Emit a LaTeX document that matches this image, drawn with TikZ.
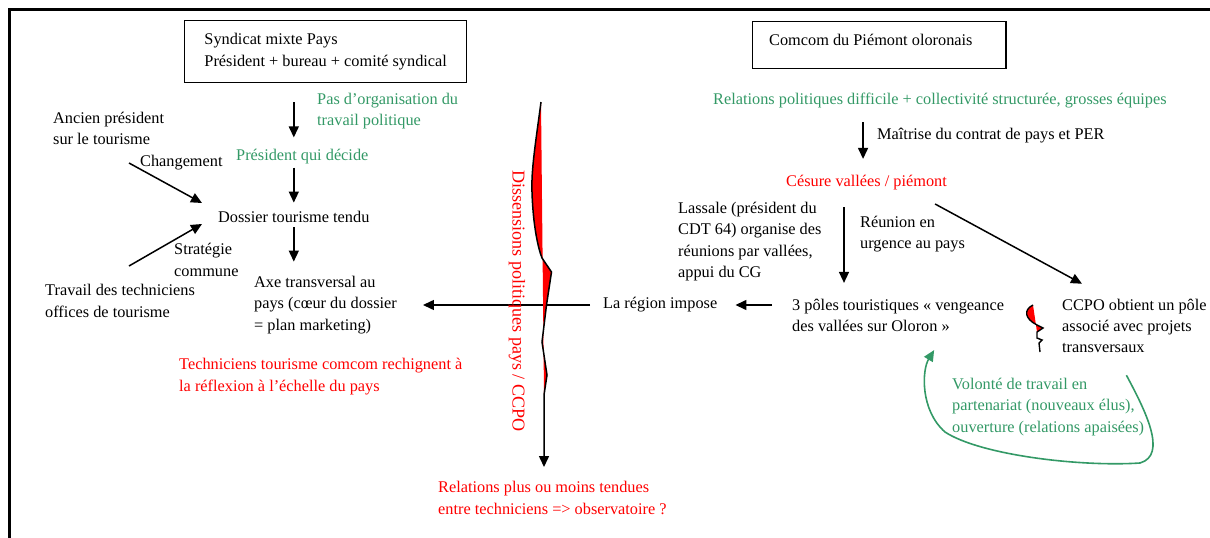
\documentclass[tikz,border=0pt]{standalone}
\usepackage{fontspec}
\setmainfont{Liberation Serif}
\usepackage{tikz}
\usetikzlibrary{arrows.meta,positioning,calc}
\definecolor{vert}{RGB}{51,153,102}
\definecolor{rouge}{RGB}{255,0,0}

\begin{document}
\begin{tikzpicture}[x=1pt,y=-1pt,font=\fontsize{16.3pt}{21.3pt}\selectfont,
  txt/.style={anchor=west,inner sep=0pt,align=left},
  cadre/.style={draw,line width=1.4pt,anchor=north west,inner xsep=17pt,align=left},
  arr/.style={line width=1.5pt,-{Triangle[length=11pt,width=10pt]}}]
\useasboundingbox (0,0) rectangle (1210,538);
\draw[line width=2.2pt] (9.5,538) -- (9.5,9.5) -- (1210,9.5);

% cote pays
\node[cadre,minimum width=282pt,minimum height=62pt] (pays) at (184,20) {Syndicat mixte Pays\\Président + bureau + comité syndical};
\node[txt,vert] (pasorg) at (317,111) {Pas d’organisation du\\travail politique};
\node[txt] (ancien) at (53,128.5) {Ancien président\\sur le tourisme};
\node[txt,vert] (decide) at (236,157) {Président qui décide};
\node[txt] (chgt) at (140,163) {Changement};
\node[txt] (dossier) at (218,217) {Dossier tourisme tendu};
\node[txt] (strat) at (174,260) {Stratégie\\commune};
\node[txt] (travail) at (45,301) {Travail des techniciens\\offices de tourisme};
\node[txt] (axe) at (254,305) {Axe transversal au\\pays (cœur du dossier\\= plan marketing)};
\node[txt,rouge] (rechign) at (179,376.5) {Techniciens tourisme comcom rechignent à\\la réflexion à l’échelle du pays};
\coordinate (chgA) at (129,163);
\coordinate (stratA) at (129,266);

\draw[arr,shorten <=19pt,shorten >=12pt] (pays.south -| dossier) -- (decide.north -| dossier);
\draw[arr,shorten <=3pt,shorten >=8.5pt] (decide.south -| dossier) -- (dossier.north);
\draw[arr,shorten <=4.5pt,shorten >=14.5pt] (dossier.south) -- (axe.north -| dossier);
\draw[arr] (chgA) -- ([xshift=-16pt,yshift=14pt]dossier.west);
\draw[arr] (stratA) -- ([xshift=-16pt,yshift=-7pt]dossier.west);

% cote comcom
\node[cadre,minimum width=253pt,inner xsep=16.5pt,minimum height=47pt,text height=12pt,text depth=12pt] (comcom) at (752,21) {Comcom du Piémont oloronais\hspace*{17pt}};
\node[txt,vert] (relpol) at (713,101) {Relations politiques difficile + collectivité structurée, grosses équipes};
\node[txt] (maitrise) at (877,136) {Maîtrise du contrat de pays et PER};
\node[txt,rouge] (cesure) at (786,183) {Césure vallées / piémont};
\node[txt] (lassale) at (678,241.5) {Lassale (président du\\CDT 64) organise des\\réunions par vallées,\\appui du CG};
\node[txt] (reunion) at (860,234) {Réunion en\\urgence au pays};
\node[txt] (region) at (603,305) {La région impose};
\node[txt] (poles) at (792,315.5) {3 pôles touristiques « vengeance\\des vallées sur Oloron »};
\node[txt] (ccpo) at (1062,326) {CCPO obtient un pôle\\associé avec projets\\transversaux};
\node[txt,vert] (volonte) at (952,407) {Volonté de travail en\\partenariat (nouveaux élus),\\ouverture (relations apaisées)};

\draw[arr,shorten <=13.5pt,shorten >=16.5pt] ([xshift=-3.5pt]cesure.north |- relpol.south) -- ([xshift=-3.5pt]cesure.north);
\draw[arr,shorten <=16.5pt,shorten >=16pt] ([xshift=-16pt]reunion.west |- cesure.south) -- ([xshift=-16pt]reunion.west |- poles.north);
\draw[arr] ([xshift=-12pt,yshift=-21pt]cesure.east) -- ([xshift=20pt,yshift=15pt]ccpo.north west);
\draw[arr,shorten <=20pt,shorten >=18pt] (poles.west |- region.east) -- (region.east);
\draw[arr,shorten <=13pt,shorten >=26pt] (region.west) -- (axe.east);
\draw[vert,line width=1.6pt,-{Triangle[length=11pt,width=10pt]}] ([xshift=-8pt,yshift=-22pt]ccpo.south)
  .. controls (1145,410) and (1168,455) .. (1140,463)
  .. controls (1080,467) and (980,455) .. (945,432)
  .. controls (920,410) and (922,370) .. ([xshift=36pt,yshift=-18pt]poles.south);

% eclair
\fill[rouge] (1033,305) .. controls (1023,310) and (1025,319) .. (1037,325) -- (1043,328) -- (1037,332) -- cycle;
\draw[line width=1.4pt] (1033,305) .. controls (1023,310) and (1025,319) .. (1037,325) -- (1043,328) -- (1037,332)
  -- (1037,338) -- (1042,340) -- (1039,343) -- (1040,352);

% ligne de fracture pays / CCPO
\fill[rouge] (541,102) .. controls (536,140) and (531,170) .. (532,192) .. controls (533,225) and (538,248) .. (542,258)
  -- (551.5,272) -- (546.5,305) -- (542,342) -- (547,375) -- (544,395) -- cycle;
\draw[arr] (541,102) .. controls (536,140) and (531,170) .. (532,192) .. controls (533,225) and (538,248) .. (542,258)
  -- (551.5,272) -- (546.5,305) -- (542,342) -- (547,375) -- (544,395) -- (544,467);
\node[rouge,rotate=-90,inner sep=0pt,font=\fontsize{18.1pt}{21pt}\selectfont] (dissens) at (517,301) {Dissensions politiques pays / CCPO};
\node[txt,rouge] (relobs) at (438,498) {Relations plus ou moins tendues\\entre techniciens => observatoire ?};
\end{tikzpicture}
\end{document}
